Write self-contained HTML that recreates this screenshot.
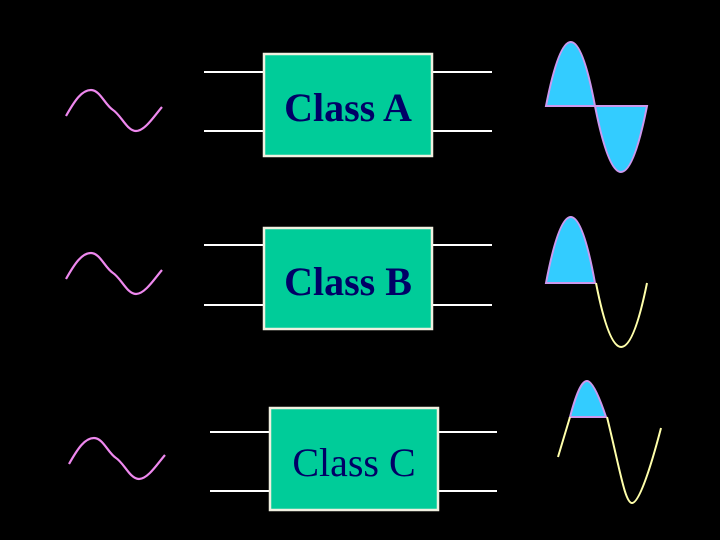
<!DOCTYPE html>
<html><head><meta charset="utf-8"><style>
html,body{margin:0;padding:0;background:#000;width:720px;height:540px;overflow:hidden}
</style></head><body>
<svg width="720" height="540" viewBox="0 0 720 540" xmlns="http://www.w3.org/2000/svg">
<rect width="720" height="540" fill="#000"/>
<g stroke="#fff" stroke-width="2">
<line x1="204" y1="72" x2="263" y2="72"/><line x1="204" y1="131" x2="263" y2="131"/>
<line x1="432" y1="72" x2="492" y2="72"/><line x1="432" y1="131" x2="492" y2="131"/>
<line x1="204" y1="245" x2="263" y2="245"/><line x1="204" y1="305" x2="263" y2="305"/>
<line x1="432" y1="245" x2="492" y2="245"/><line x1="432" y1="305" x2="492" y2="305"/>
<line x1="210" y1="432" x2="269" y2="432"/><line x1="210" y1="491" x2="269" y2="491"/>
<line x1="438" y1="432" x2="497" y2="432"/><line x1="438" y1="491" x2="497" y2="491"/>
</g>
<g fill="#00cc99" stroke="#f0f0e0" stroke-width="2.5">
<rect x="264" y="54" width="168" height="102"/>
<rect x="264" y="228" width="168" height="101"/>
<rect x="270" y="408" width="168" height="102"/>
</g>
<g fill="#000066" font-family="Liberation Serif, serif" font-size="40" text-anchor="middle">
<text x="348" y="121" font-weight="bold">Class A</text>
<text x="348" y="295" font-weight="bold">Class B</text>
<text x="354" y="476">Class C</text>
</g>
<g fill="none" stroke="#ee88ee" stroke-width="2.2">
<path d="M66,116 C75,100 82,90 91,90 S105,105 113,110 S127,131 136,131 S155,115 162,107"/>
<path d="M66,279 C75,263 82,253 91,253 S105,268 113,273 S127,294 136,294 S155,278 162,270"/>
<path d="M69,464 C78,448 85,438 94,438 S108,453 116,458 S130,479 139,479 S158,463 165,455"/>
</g>
<g fill="#33ccff" stroke="#cc99ee" stroke-width="2">
<path d="M546,106 Q571,-22 595,106 Z"/>
<path d="M595,106 Q621,238 647,106 Z"/>
<path d="M546,283 Q571,151 595,283 Z"/>
<path d="M570,417 C578,387 583,381 587,381 S597,390 606,417 Z"/>
</g>
<g fill="none" stroke="#ffffaa" stroke-width="2">
<path d="M596,283 Q621,411 647,283"/>
<path d="M558,457 L570,417"/>
<path d="M607,417 C620,470 625,503 632,503 S650,470 661,428"/>
</g>
</svg>
</body></html>
